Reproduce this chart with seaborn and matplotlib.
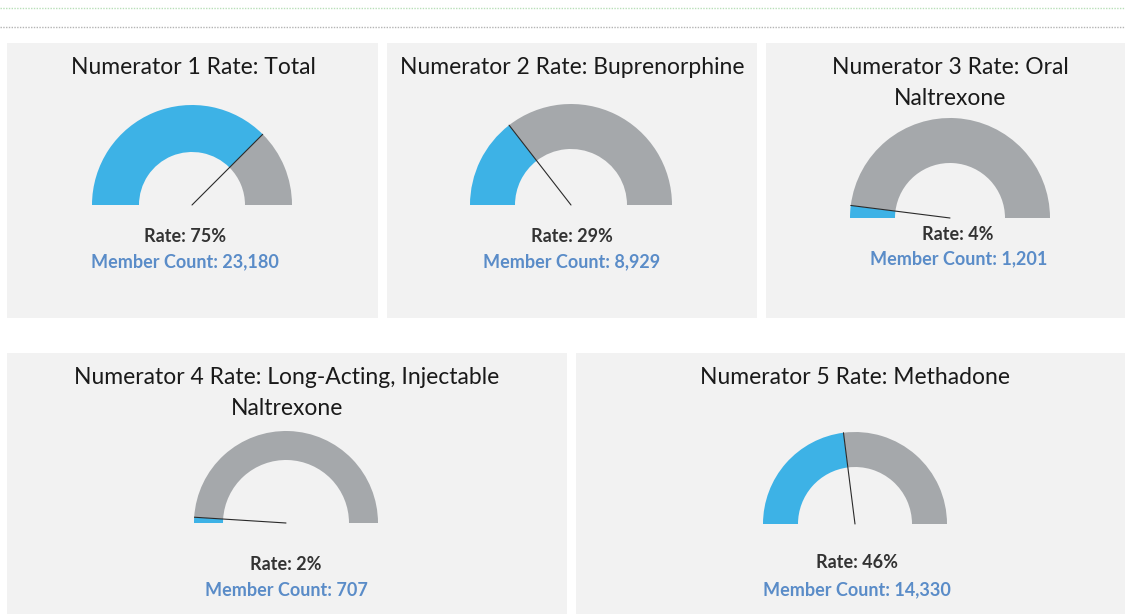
import numpy as np
import matplotlib
matplotlib.use("Agg")
import matplotlib.pyplot as plt
from matplotlib.patches import Rectangle
import seaborn as sns

sns.set_theme(style="white")
plt.rcParams['font.family'] = ['Lato', 'DejaVu Sans']

# =========================
# Data
# =========================
titles = [
    "Numerator 1 Rate: Total",
    "Numerator 2 Rate: Buprenorphine",
    "Numerator 3 Rate: Oral\nNaltrexone",
    "Numerator 4 Rate: Long-Acting, Injectable\nNaltrexone",
    "Numerator 5 Rate: Methadone",
]
rates = [75, 29, 4, 2, 46]
member_counts = [23180, 8929, 1201, 707, 14330]

BLUE = "#3db2e6"
GRAY = "#a5a8ab"
PANEL = "#f2f2f2"
COUNT_COLOR = "#5a8cc8"

W, H = 1125, 614
fig = plt.figure(figsize=(W / 100, H / 100), dpi=100)
fig.patch.set_facecolor("white")

# background axes in pixel coords
bg = fig.add_axes([0, 0, 1, 1])
bg.set_xlim(0, W)
bg.set_ylim(H, 0)
bg.axis("off")

bg.plot([0, W], [8, 8], color="#b8dfb8", lw=1, ls=(0, (1, 1)))
bg.plot([0, W], [27, 27], color="#b4b4b4", lw=1, ls=(0, (1, 1)))

# panel boxes: x0, y0, x1, y1
panels = [(7, 43, 378, 318), (387, 43, 757, 318), (766, 43, 1125, 318),
          (7, 353, 567, 614), (576, 353, 1125, 614)]
for x0, y0, x1, y1 in panels:
    bg.add_patch(Rectangle((x0, y0), x1 - x0, y1 - y0, color=PANEL, lw=0))

# gauge geometry (center x, baseline y, outer R, inner r) and text anchors
gauges = [(192, 205, 100, 53), (571, 205, 101, 56), (950, 218, 100, 55),
          (286, 523, 92, 63), (855, 524, 92, 57)]
title_pos = [(193, 68), (572, 68), (950, 83), (287, 393), (855, 378)]
rate_pos = [(185, 237), (572, 237), (958, 235), (286, 564), (857, 563)]
count_pos = [(185, 262), (572, 262), (959, 259), (286, 590), (857, 590)]

for i in range(len(rates)):
    cx, cy, R, r = gauges[i]
    ax = fig.add_axes([(cx - R) / W, 1 - (cy + R) / H, 2 * R / W, 2 * R / H])
    ax.pie([rates[i], 100 - rates[i], 100], colors=[BLUE, GRAY, "none"],
           startangle=180, counterclock=False, radius=1,
           wedgeprops=dict(width=1 - r / R, linewidth=0))
    theta = np.pi * (1 - rates[i] / 100)
    ax.plot([0, np.cos(theta)], [0, np.sin(theta)], color="#2a2a2a", lw=0.8)
    ax.set_xlim(-1, 1)
    ax.set_ylim(-1, 1)
    ax.set_aspect("equal")
    ax.axis("off")

    tx, ty = title_pos[i]
    bg.text(tx, ty, titles[i], ha="center", va="center", fontsize=16.5,
            color="#1a1a1a", linespacing=1.55)
    rx, ry = rate_pos[i]
    bg.text(rx, ry, f"Rate: {rates[i]}%", ha="center", va="center",
            fontsize=13, fontweight="bold", color="#333333")
    mx, my = count_pos[i]
    bg.text(mx, my, f"Member Count: {member_counts[i]:,}", ha="center",
            va="center", fontsize=13, fontweight="bold", color=COUNT_COLOR)

fig.savefig("out.png", dpi=100)
